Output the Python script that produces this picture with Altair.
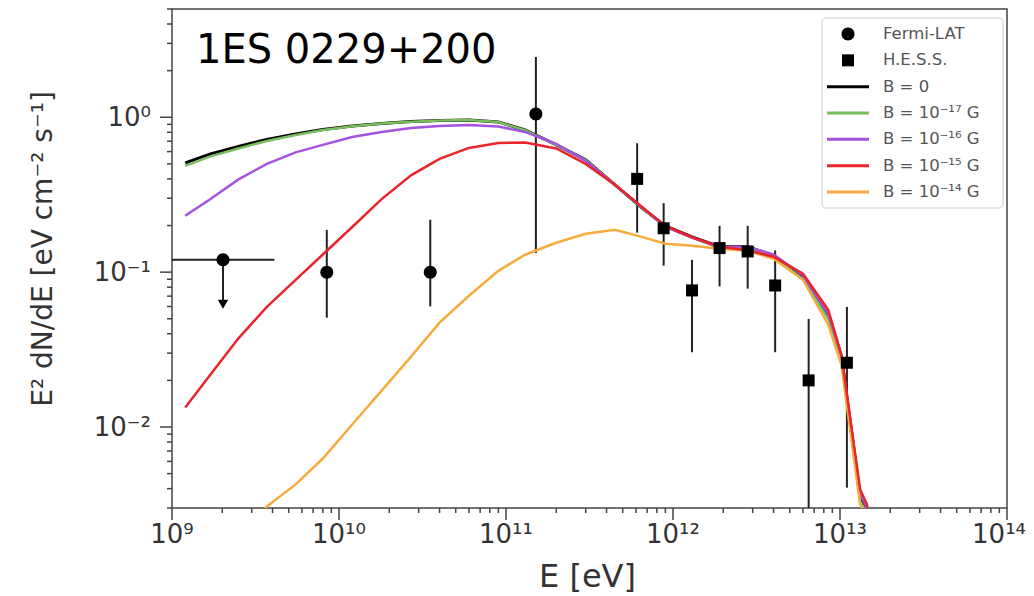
import altair as alt
import pandas as pd

# ---------------- data ----------------
# common energy grid of the model curves (eV)
E_grid = [1.2e9, 1.7e9, 2.5e9, 3.7e9, 5.5e9, 8e9, 1.2e10, 1.8e10, 2.7e10, 4e10,
          6e10, 9e10, 1.3e11, 2e11, 3e11, 4.5e11, 6.5e11, 9e11, 1.3e12, 1.9e12,
          2.8e12, 4e12, 6e12, 8.5e12, 1.02e13, 1.32e13, 1.45e13, 1.7e13]

B0 = [0.507, 0.580, 0.648, 0.719, 0.780, 0.834, 0.879, 0.912, 0.939, 0.954,
      0.961, 0.933, 0.828, 0.663, 0.531, 0.366, 0.260, 0.199, 0.169, 0.146,
      0.146, 0.1276, 0.093, 0.0523, 0.0285, 0.00356, 0.00298, 0.0012]
B17 = [0.485, 0.559, 0.629, 0.703, 0.769, 0.828, 0.875, 0.910, 0.937, 0.952,
       0.959, 0.931, 0.826, 0.662, 0.530, 0.366, 0.260, 0.197, 0.167, 0.143,
       0.144, 0.125, 0.090, 0.050, 0.027, 0.0033, 0.0028, 0.0011]
B16 = [0.231, 0.297, 0.397, 0.500, 0.593, 0.663, 0.746, 0.804, 0.853, 0.879,
       0.892, 0.872, 0.804, 0.673, 0.523, 0.366, 0.262, 0.196, 0.167, 0.145,
       0.146, 0.130, 0.095, 0.054, 0.029, 0.0037, 0.0030, 0.0012]
B15 = [0.01335, 0.0218, 0.0374, 0.0596, 0.0892, 0.130, 0.1956, 0.296, 0.4214, 0.5385,
       0.634, 0.683, 0.688, 0.629, 0.500, 0.366, 0.264, 0.199, 0.168, 0.146,
       0.1384, 0.1257, 0.0976, 0.0572, 0.0293, 0.00395, 0.00316, 0.0013]
B14 = [None, None, 0.00203, 0.00307, 0.00426, 0.00626, 0.01038, 0.01719, 0.0285, 0.0472,
       0.0704, 0.102, 0.1295, 0.1547, 0.1768, 0.1877, 0.169, 0.1524, 0.148, 0.1415,
       0.1374, 0.122, 0.0893, 0.0458, 0.0253, 0.00316, 0.0027, 0.001]

# Fermi-LAT points (first one is an upper limit)
F_E = [2.02e9, 8.45e9, 3.52e10, 1.51e11]
F_val = [0.120, 0.100, 0.100, 1.05]
F_lo = [None, 0.0508, 0.060, 0.133]
F_hi = [None, 0.1876, 0.218, 2.45]
UL_E = [2.02e9]
UL_val = [0.120]
UL_xlo = [1e9]
UL_xhi = [4.1e9]
UL_arrow = [0.062]

# H.E.S.S. points
H_E = [6.10e11, 8.79e11, 1.30e12, 1.90e12, 2.80e12, 4.09e12, 6.49e12, 1.10e13]
H_val = [0.400, 0.192, 0.0762, 0.143, 0.136, 0.082, 0.020, 0.026]
H_lo = [0.180, 0.110, 0.0304, 0.0809, 0.0782, 0.0304, 0.001, 0.00406]
H_hi = [0.68, 0.279, 0.120, 0.199, 0.199, 0.138, 0.0499, 0.0596]

source_name = ["1ES 0229+200"]
x_title = ["E [eV]"]
y_title = ["E² dN/dE  [eV cm⁻² s⁻¹]"]

series_names = ["Fermi-LAT", "H.E.S.S.", "B = 0", "B = 10⁻¹⁷ G", "B = 10⁻¹⁶ G",
                "B = 10⁻¹⁵ G", "B = 10⁻¹⁴ G"]
series_colors = ["black", "black", "black", "#78be5c", "#a552e0", "#e8252b", "#f6ab3c"]
series_shapes = [
    "M-0.65,0A0.65,0.65,0,1,1,0.65,0A0.65,0.65,0,1,1,-0.65,0Z",
    "M-0.6,-0.6L0.6,-0.6L0.6,0.6L-0.6,0.6Z",
    "circle", "circle", "circle", "circle", "circle",
]
curve_values = [B0, B17, B16, B15, B14]
curve_widths = [3, 2.5, 2.5, 2.5, 2.5]
draw_order = [0, 1, 2, 4, 3]

x_major = [1e9, 1e10, 1e11, 1e12, 1e13, 1e14]
x_major_labels = ["10⁹", "10¹⁰", "10¹¹", "10¹²", "10¹³", "10¹⁴"]
y_major = [1e-2, 1e-1, 1]
y_major_labels = ["10⁻²", "10⁻¹", "10⁰"]
mult = [2, 3, 4, 5, 6, 7, 8, 9]

# ---------------- tables ----------------
rows = []
for name, vals in zip(series_names[2:], curve_values):
    for e, v in zip(E_grid, vals):
        if v is not None:
            rows.append({"E": e, "v": v, "series": name})
curves = pd.DataFrame(rows)

fermi = pd.DataFrame({"E": F_E, "v": F_val, "lo": F_lo, "hi": F_hi, "series": "Fermi-LAT"})
hess = pd.DataFrame({"E": H_E, "v": H_val, "lo": H_lo, "hi": H_hi, "series": "H.E.S.S."})
pts = pd.concat([fermi, hess], ignore_index=True)
errs = pts.dropna(subset=["lo"])
ul = pd.DataFrame({"E": UL_E, "v": UL_val, "xlo": UL_xlo, "xhi": UL_xhi, "arrow": UL_arrow})

x_minor = [m * 10.0 ** k for k in range(9, 14) for m in mult]
y_minor = [m * 1e-3 for m in mult[1:]] + [m * 10.0 ** k for k in (-2, -1) for m in mult] + \
          [2, 3, 4, 5]
xM = pd.DataFrame({"t": x_major, "lab": x_major_labels})
yM = pd.DataFrame({"t": y_major, "lab": y_major_labels})
xm = pd.DataFrame({"t": x_minor})
ym = pd.DataFrame({"t": y_minor})
leg = pd.DataFrame({"series": series_names})

FONT = "DejaVu Sans"
AX = "#444444"
LAB = "#333333"
W, H = 835, 499

x_scale = alt.Scale(type="log", domain=[1e9, 1e14], nice=False)
y_scale = alt.Scale(type="log", domain=[3e-3, 5], nice=False)
col_scale = alt.Scale(domain=series_names, range=series_colors)
shp_scale = alt.Scale(domain=series_names, range=series_shapes)
leg_y = alt.Scale(type="point", domain=series_names, range=[25, 183], padding=0)


def X(f="E"):
    return alt.X(f"{f}:Q", scale=x_scale, axis=None)


def Y(f="v"):
    return alt.Y(f"{f}:Q", scale=y_scale, axis=None)


main = []
# error bars
main.append(alt.Chart(errs).mark_rule(color="#222", strokeWidth=2, clip=True).encode(
    x=X(), y=Y("lo"), y2="hi:Q"))
main.append(alt.Chart(ul).mark_rule(color="#222", strokeWidth=2, clip=True).encode(
    x=X("xlo"), x2="xhi:Q", y=Y()))
main.append(alt.Chart(ul).mark_rule(color="#222", strokeWidth=2, clip=True).encode(
    x=X(), y=Y(), y2="arrow:Q"))
main.append(alt.Chart(ul).mark_point(shape="triangle-down", filled=True, color="black",
                                     size=110, opacity=1).encode(x=X(), y=Y("arrow")))
# model curves
for i in draw_order:
    name = series_names[2 + i]
    main.append(alt.Chart(curves).transform_filter(alt.datum.series == name)
                .mark_line(strokeWidth=curve_widths[i], clip=True)
                .encode(x=X(), y=Y(),
                        color=alt.Color("series:N", scale=col_scale, legend=None)))
# data points
main.append(alt.Chart(pts).mark_point(size=400, opacity=1, filled=True)
            .encode(x=X(), y=Y(),
                    color=alt.Color("series:N", scale=col_scale, legend=None),
                    shape=alt.Shape("series:N", scale=shp_scale, legend=None)))
# tick marks (major / minor) placed by the axis scales
main.append(alt.Chart(xM).mark_rule(color=AX, strokeWidth=1.5).encode(
    x=X("t"), y=alt.value(H), y2=alt.value(H + 12)))
main.append(alt.Chart(xm).mark_rule(color=AX, strokeWidth=1.5).encode(
    x=X("t"), y=alt.value(H), y2=alt.value(H + 5)))
main.append(alt.Chart(yM).mark_rule(color=AX, strokeWidth=1.5).encode(
    y=Y("t"), x=alt.value(0), x2=alt.value(-12)))
main.append(alt.Chart(ym).mark_rule(color=AX, strokeWidth=1.5).encode(
    y=Y("t"), x=alt.value(0), x2=alt.value(-5)))
# tick labels
main.append(alt.Chart(xM).transform_filter(alt.datum.t < 5e13).mark_text(
    align="center", baseline="top", font=FONT, fontSize=26, color=LAB).encode(
    x=X("t"), y=alt.value(H + 14), text="lab:N"))
main.append(alt.Chart(xM).transform_filter(alt.datum.t > 5e13).mark_text(
    align="right", baseline="top", font=FONT, fontSize=26, color=LAB, dx=19).encode(
    x=X("t"), y=alt.value(H + 14), text="lab:N"))
main.append(alt.Chart(yM).mark_text(
    align="right", baseline="middle", font=FONT, fontSize=26, color=LAB, dy=1).encode(
    y=Y("t"), x=alt.value(-21), text="lab:N"))
# axis titles
main.append(alt.Chart(pd.DataFrame({"t": x_title})).mark_text(
    align="center", baseline="alphabetic", font=FONT, fontSize=32, color=LAB).encode(
    text="t:N", x=alt.value(W / 2 - 2), y=alt.value(H + 79)))
main.append(alt.Chart(pd.DataFrame({"t": y_title})).mark_text(
    align="center", baseline="middle", font=FONT, fontSize=28, color=LAB, angle=270).encode(
    text="t:N", x=alt.value(-128), y=alt.value(240)))
# source name
main.append(alt.Chart(pd.DataFrame({"t": source_name})).mark_text(
    align="left", baseline="alphabetic", font=FONT, fontSize=40, color="black")
    .encode(text="t:N", x=alt.value(24), y=alt.value(54)))

# legend
LY = alt.Y("series:N", scale=leg_y, axis=None)
legend_layers = [
    alt.Chart(pd.DataFrame({"a": [0]})).mark_rect(
        fill="white", stroke="#cccccc", strokeWidth=1, cornerRadius=4).encode(
        x=alt.value(650), x2=alt.value(831), y=alt.value(9), y2=alt.value(199)),
    alt.Chart(leg).transform_filter(alt.FieldOneOfPredicate(field="series",
                                                            oneOf=series_names[2:]))
    .mark_rule(strokeWidth=3).encode(
        x=alt.value(655), x2=alt.value(697), y=LY,
        color=alt.Color("series:N", scale=col_scale, legend=None)),
    alt.Chart(leg).transform_filter(alt.FieldOneOfPredicate(field="series",
                                                            oneOf=series_names[:2]))
    .mark_point(filled=True, size=400, opacity=1).encode(
        x=alt.value(676), y=LY,
        color=alt.Color("series:N", scale=col_scale, legend=None),
        shape=alt.Shape("series:N", scale=shp_scale, legend=None)),
    alt.Chart(leg).mark_text(align="left", baseline="middle", font=FONT,
                             fontSize=16.5, color="#555555").encode(
        x=alt.value(711), y=LY, text="series:N"),
]

chart = alt.layer(alt.layer(*main), alt.layer(*legend_layers)).resolve_scale(
    y="independent").properties(
    width=W, height=H,
    padding={"left": 164, "top": 1, "right": 19, "bottom": 88},
    autosize=alt.AutoSizeParams(type="none"),
).configure_view(stroke=AX, strokeWidth=1.5)

chart.save("out.html", embed_options={"renderer": "svg", "actions": False})
